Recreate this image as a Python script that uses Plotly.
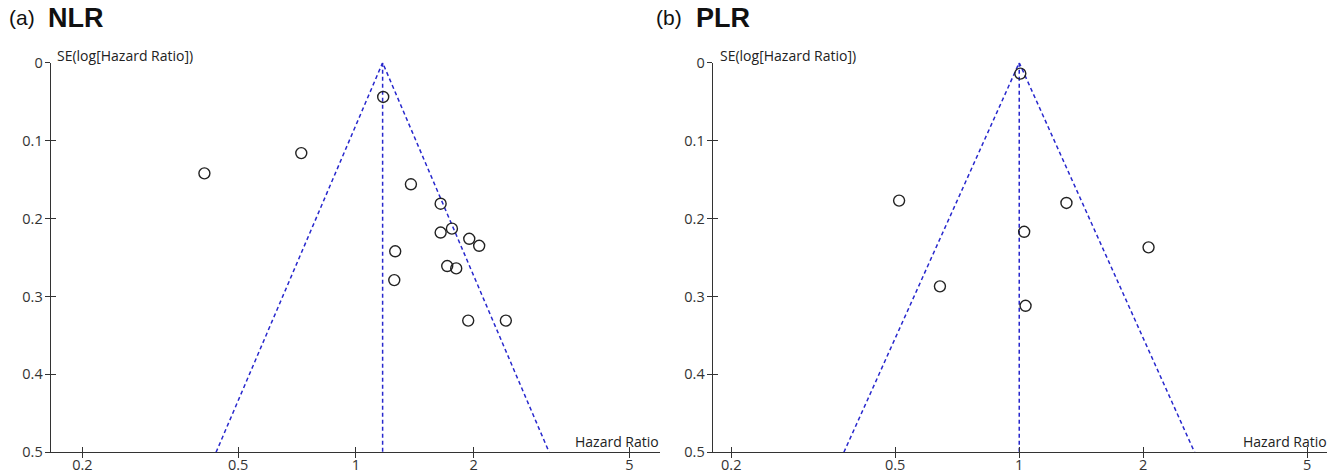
import plotly.graph_objects as go
import math

# ---- data ----
nlr_hr = [1.174, 0.725, 0.410, 1.382, 1.646, 1.646, 1.759, 1.948, 2.065, 1.260, 1.711, 1.804, 1.253, 1.936, 2.416]
nlr_se = [0.044, 0.116, 0.142, 0.156, 0.181, 0.218, 0.213, 0.226, 0.235, 0.242, 0.261, 0.264, 0.279, 0.331, 0.331]
nlr_pooled = 1.17

plr_hr = [1.006, 0.511, 1.302, 1.028, 2.060, 0.642, 1.036]
plr_se = [0.014, 0.177, 0.180, 0.217, 0.237, 0.287, 0.312]
plr_pooled = 1.00

x_tickvals = [0.2, 0.5, 1, 2, 5]
x_ticktext = ["0.2", "0.5", "1", "2", "5"]
y_tickvals = [0, 0.1, 0.2, 0.3, 0.4, 0.5]
y_ticktext = ["0", "0.1", "0.2", "0.3", "0.4", "0.5"]
se_max = 0.5
z = 1.96

W, H = 1340, 471
def px(x): return x / W
def py(y): return 1 - y / H

FUNNEL = "rgb(40,40,205)"
AXC = "#333333"
FONT = "Open Sans"
FS = 14
TFS = 14.5

fig = go.Figure()

panels = [
    dict(hr=nlr_hr, se=nlr_se, pooled=nlr_pooled, xa="x", ya="y", xa2="x3", ya2="y3",
         xdom=[px(50.7), px(660)], xr=[-0.780, 0.777]),
    dict(hr=plr_hr, se=plr_se, pooled=plr_pooled, xa="x2", ya="y2", xa2="x4", ya2="y4",
         xdom=[px(712.7), px(1327)], xr=[-0.744, 0.747]),
]
ydom = [py(452.3), py(62.7)]

for i, p in enumerate(panels):
    lo = p["pooled"] * math.exp(-z * se_max)
    hi = p["pooled"] * math.exp(z * se_max)
    fig.add_trace(go.Scatter(x=[lo, p["pooled"], hi], y=[se_max, 0, se_max], mode="lines",
                             line=dict(color=FUNNEL, width=1.5, dash="4px,3px"),
                             xaxis=p["xa"], yaxis=p["ya"], showlegend=False, hoverinfo="skip"))
    fig.add_trace(go.Scatter(x=[p["pooled"], p["pooled"]], y=[0, se_max], mode="lines",
                             line=dict(color=FUNNEL, width=1.5, dash="4px,3px"),
                             xaxis=p["xa"], yaxis=p["ya"], showlegend=False, hoverinfo="skip"))
    fig.add_trace(go.Scatter(x=p["hr"], y=p["se"], mode="markers",
                             marker=dict(symbol="circle-open", size=11, color="#222222",
                                         line=dict(width=1.4, color="#222222")),
                             xaxis=p["xa"], yaxis=p["ya"], showlegend=False, cliponaxis=False))
    # dummy trace for the overlaid tick axes (inner half of crossing ticks)
    fig.add_trace(go.Scatter(x=[None], y=[None], xaxis=p["xa2"], yaxis=p["ya2"],
                             showlegend=False, hoverinfo="skip"))

    xname = "xaxis" if p["xa"] == "x" else "xaxis" + p["xa"][1:]
    yname = "yaxis" if p["ya"] == "y" else "yaxis" + p["ya"][1:]
    x2name = "xaxis" + p["xa2"][1:]
    y2name = "yaxis" + p["ya2"][1:]
    common_x = dict(type="log", range=p["xr"], tickvals=x_tickvals, ticktext=x_ticktext,
                    showgrid=False, zeroline=False, showline=True, linecolor=AXC, linewidth=1.2,
                    tickcolor=AXC, tickwidth=1.2, ticklen=5, automargin=False,
                    tickfont=dict(family=FONT, size=TFS, color="#333333"))
    common_y = dict(range=[0.5, 0], tickvals=y_tickvals, ticktext=y_ticktext,
                    showgrid=False, zeroline=False, showline=True, linecolor=AXC, linewidth=1.2,
                    tickcolor=AXC, tickwidth=1.2, ticklen=5, automargin=False,
                    tickfont=dict(family=FONT, size=TFS, color="#333333"))
    fig.update_layout(**{
        xname: dict(domain=p["xdom"], anchor=p["ya"], ticks="outside", ticklabelstandoff=-6, **common_x),
        yname: dict(domain=ydom, anchor=p["xa"], ticks="outside", ticklabelstandoff=-1, **common_y),
        x2name: dict(overlaying=p["xa"], anchor=p["ya2"], ticks="inside", showticklabels=False,
                     **{k: v for k, v in common_x.items() if k != "tickfont"}),
        y2name: dict(overlaying=p["ya"], anchor=p["xa2"], ticks="inside", showticklabels=False,
                     **{k: v for k, v in common_y.items() if k != "tickfont"}),
    })

ann = []
def txt(t, x, y, xa, size, fam=FONT, color="#222222"):
    ann.append(dict(text=t, x=px(x), y=py(y), xref="paper", yref="paper", xanchor=xa,
                    yanchor="middle", showarrow=False, font=dict(family=fam, size=size, color=color)))

txt("(a)", 7, 18, "left", 21, "Liberation Sans", "#111111")
txt("<b>NLR</b>", 46, 18, "left", 27, "Liberation Sans", "#111111")
txt("(b)", 654, 18, "left", 21, "Liberation Sans", "#111111")
txt("<b>PLR</b>", 694, 18, "left", 27, "Liberation Sans", "#111111")
txt("SE(log[Hazard Ratio])", 55, 56, "left", FS)
txt("SE(log[Hazard Ratio])", 718, 56, "left", FS)
txt("Hazard Ratio", 661, 441, "right", FS)
txt("Hazard Ratio", 1241, 441, "left", FS)

fig.update_layout(width=W, height=H, margin=dict(l=0, r=0, t=0, b=0, autoexpand=False),
                  paper_bgcolor="white", plot_bgcolor="white", annotations=ann,
                  showlegend=False)

fig.write_html("out.html", config={"displayModeBar": False},
               post_script="document.body.style.margin='0px';document.body.style.overflow='hidden';")
